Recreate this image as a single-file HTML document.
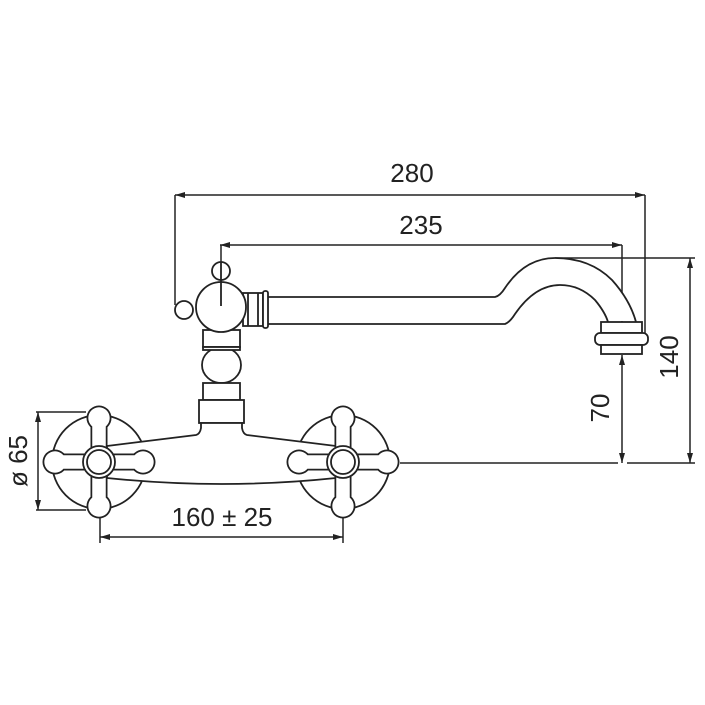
<!DOCTYPE html>
<html><head><style>html,body{margin:0;padding:0;background:#fff}svg{display:block}</style></head>
<body>
<svg width="705" height="705" viewBox="0 0 705 705" xmlns="http://www.w3.org/2000/svg">
<defs>
<marker id="a" viewBox="0 0 10 6" refX="10" refY="3" markerWidth="10" markerHeight="6" orient="auto-start-reverse" markerUnits="userSpaceOnUse"><path d="M0,0 L10,3 L0,6 z" fill="#222"/></marker>
</defs>
<g fill="none" stroke="#222" stroke-width="1.5">
<line x1="175" y1="195" x2="645" y2="195" marker-start="url(#a)" marker-end="url(#a)"/>
<line x1="175" y1="195" x2="175" y2="305"/>
<line x1="645" y1="195" x2="645" y2="340"/>
<line x1="220" y1="245" x2="622" y2="245" marker-start="url(#a)" marker-end="url(#a)"/>
<line x1="221" y1="245" x2="221" y2="318"/>
<line x1="622" y1="245" x2="622" y2="322"/>
<line x1="690" y1="258" x2="690" y2="463" marker-start="url(#a)" marker-end="url(#a)"/>
<line x1="555" y1="258" x2="695" y2="258"/>
<line x1="400" y1="463" x2="618" y2="463"/>
<line x1="627" y1="463" x2="695" y2="463"/>
<line x1="622" y1="355" x2="622" y2="463" marker-start="url(#a)" marker-end="url(#a)"/>
<line x1="38" y1="412" x2="38" y2="510" marker-start="url(#a)" marker-end="url(#a)"/>
<line x1="36" y1="412" x2="86" y2="412"/>
<line x1="36" y1="510" x2="86" y2="510"/>
<line x1="100" y1="537" x2="343" y2="537" marker-start="url(#a)" marker-end="url(#a)"/>
<line x1="100" y1="517" x2="100" y2="543"/>
<line x1="343" y1="517" x2="343" y2="543"/>
</g>
<g fill="#fff" stroke="#222" stroke-width="1.8">
<path d="M267,297 L495,297 Q500,296 505,288 Q525,258 555,258 Q590,258 612,280 Q630,300 636,322"/>
<path d="M267,324 L505,324 Q510,322 515,314 Q535,285 560,285 Q580,285 595,300 Q605,312 608,322" fill="none"/>
<rect x="601" y="322" width="41" height="11"/>
<rect x="595" y="333" width="53" height="12" rx="5"/>
<rect x="601" y="345" width="41" height="9"/>
<rect x="243" y="293" width="20" height="33"/>
<rect x="263" y="291" width="5" height="37" rx="2"/>
<line x1="248" y1="293" x2="248" y2="326"/>
<line x1="258" y1="293" x2="258" y2="326"/>
<rect x="203" y="330" width="37" height="17"/>
<ellipse cx="221.5" cy="365" rx="19.5" ry="18"/>
<rect x="203" y="347" width="37" height="3"/>
<rect x="203" y="383" width="37" height="17"/>
<rect x="199" y="400" width="45" height="23"/>
<circle cx="184" cy="310" r="9"/>
<circle cx="221" cy="271" r="9"/>
<circle cx="221" cy="307" r="25"/>
<line x1="221" y1="262" x2="221" y2="306"/>
<circle cx="99" cy="462" r="47"/>
<circle cx="343" cy="462" r="47"/>
<path d="M107,446 L196,435 Q200,434 201,428 L201,423 L242,423 L242,428 Q243,434 247,435 L336,446 L336,478 Q222,490 107,478 Z"/>
</g>
<g stroke-linecap="round">
<g stroke="#222" stroke-width="17">
<path d="M99,419V505M56,462H142M343,419V505M300,462H386"/>
</g>
<g fill="#222">
<circle cx="99" cy="418" r="12.5"/><circle cx="99" cy="506" r="12.5"/><circle cx="55" cy="462" r="12.5"/><circle cx="143" cy="462" r="12.5"/>
<circle cx="343" cy="418" r="12.5"/><circle cx="343" cy="506" r="12.5"/><circle cx="299" cy="462" r="12.5"/><circle cx="387" cy="462" r="12.5"/>
</g>
<g stroke="#fff" stroke-width="13.5">
<path d="M99,419V505M56,462H142M343,419V505M300,462H386"/>
</g>
<g fill="#fff">
<circle cx="99" cy="418" r="10.7"/><circle cx="99" cy="506" r="10.7"/><circle cx="55" cy="462" r="10.7"/><circle cx="143" cy="462" r="10.7"/>
<circle cx="343" cy="418" r="10.7"/><circle cx="343" cy="506" r="10.7"/><circle cx="299" cy="462" r="10.7"/><circle cx="387" cy="462" r="10.7"/>
</g>
</g>
<g fill="#fff" stroke="#222" stroke-width="1.8">
<circle cx="99" cy="462" r="16"/><circle cx="99" cy="462" r="12"/>
<circle cx="343" cy="462" r="16"/><circle cx="343" cy="462" r="12"/>
</g>
<g font-family="Liberation Sans, sans-serif" font-size="26" fill="#222" text-anchor="middle">
<text x="412" y="182">280</text>
<text x="421" y="234">235</text>
<text x="222" y="526">160 ± 25</text>
<text transform="translate(678,357) rotate(-90)">140</text>
<text transform="translate(609,408) rotate(-90)">70</text>
<text transform="translate(27,461) rotate(-90)">ø 65</text>
</g>
</svg>
</body></html>
